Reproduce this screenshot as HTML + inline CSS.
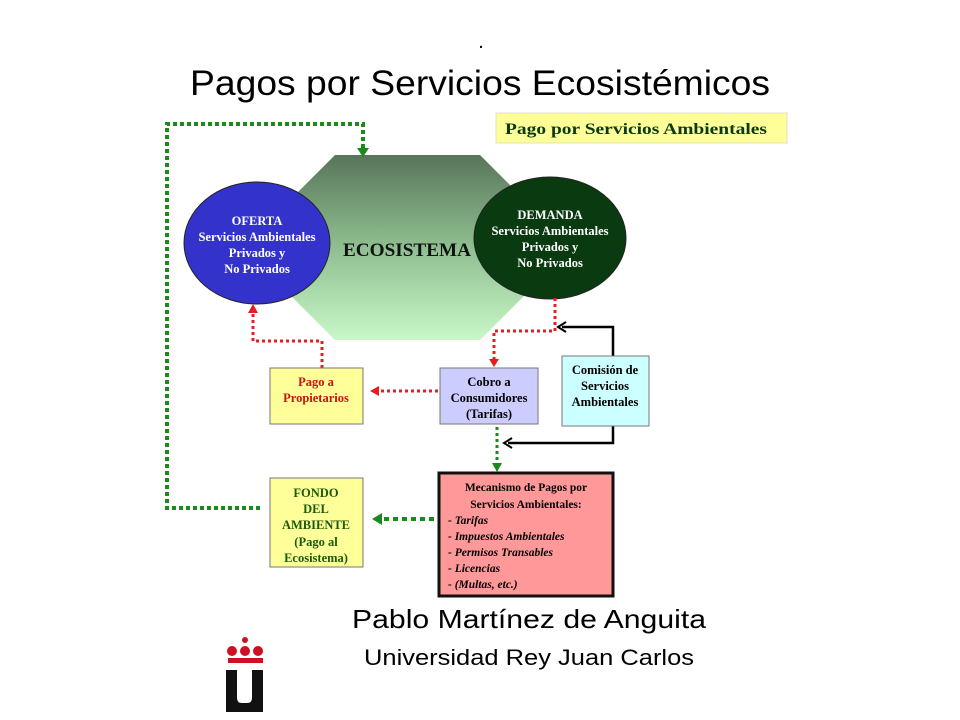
<!DOCTYPE html>
<html><head><meta charset="utf-8"><style>html,body{margin:0;padding:0;background:#fff}svg{display:block}</style></head>
<body>
<svg width="960" height="720" viewBox="0 0 960 720" xmlns="http://www.w3.org/2000/svg">
<defs>
<linearGradient id="g" x1="0" y1="0" x2="0" y2="1">
<stop offset="0" stop-color="#58755a"/><stop offset="0.5" stop-color="#8fbf90"/><stop offset="1" stop-color="#c8f7c8"/>
</linearGradient>
</defs>
<rect width="960" height="720" fill="#fff"/>
<text x="481" y="48" font-family="Liberation Sans, sans-serif" font-size="20" text-anchor="middle">.</text>
<text x="190" y="95" font-family="Liberation Sans, sans-serif" font-size="35" textLength="580" lengthAdjust="spacingAndGlyphs">Pagos por Servicios Ecosistémicos</text>
<rect x="496" y="113" width="291" height="30" fill="#ffff99" stroke="#e0e0c0"/>
<text x="505" y="134" font-family="Liberation Serif, serif" font-weight="bold" font-size="16" fill="#0a3a10" textLength="262" lengthAdjust="spacingAndGlyphs">Pago por Servicios Ambientales</text>

<polygon points="335,155 480,155 525,200 525,295 480,340 335,340 290,295 290,200" fill="url(#g)"/>
<ellipse cx="257" cy="243" rx="73" ry="61" fill="#3333cc" stroke="#222"/>
<ellipse cx="550" cy="238" rx="76" ry="61" fill="#0a3a10" stroke="#222"/>
<g font-family="Liberation Serif, serif" font-weight="bold" font-size="12.5" fill="#fff" text-anchor="middle">
<text x="257" y="225">OFERTA</text><text x="257" y="241">Servicios Ambientales</text><text x="257" y="257">Privados y</text><text x="257" y="273">No Privados</text>
<text x="550" y="219">DEMANDA</text><text x="550" y="235">Servicios Ambientales</text><text x="550" y="251">Privados y</text><text x="550" y="267">No Privados</text>
</g>
<text x="343" y="256" font-family="Liberation Serif, serif" font-weight="bold" font-size="19" fill="#111" textLength="128" lengthAdjust="spacingAndGlyphs">ECOSISTEMA</text>

<!-- green loop -->
<polyline points="260,508 167,508 167,124 363,124 363,148" fill="none" stroke="#1a8a1a" stroke-width="4" stroke-dasharray="4,3"/>
<polygon points="357,148 369,148 363,157" fill="#1a8a1a"/>
<!-- red to oferta -->
<polyline points="322,368 322,341 253,341 253,312" fill="none" stroke="#e02020" stroke-width="3" stroke-dasharray="3,3"/>
<polygon points="248,313 258,313 253,304" fill="#e02020"/>
<!-- red demanda to cobro -->
<polyline points="555,298 555,331 494,331 494,360" fill="none" stroke="#e02020" stroke-width="3" stroke-dasharray="3,3"/>
<polygon points="489,359 499,359 494,367" fill="#e02020"/>
<!-- black lines -->
<polyline points="613,356 613,327 562,327" fill="none" stroke="#000" stroke-width="2.5"/>
<polyline points="566,322 558,327 566,332" fill="none" stroke="#000" stroke-width="2"/>
<polyline points="613,426 613,443 508,443" fill="none" stroke="#000" stroke-width="2.5"/>
<polyline points="512,438 504,443 512,448" fill="none" stroke="#000" stroke-width="2"/>
<!-- red cobro to pago -->
<line x1="438" y1="391" x2="378" y2="391" stroke="#e02020" stroke-width="3" stroke-dasharray="3,3"/>
<polygon points="370,391 379,386 379,396" fill="#e02020"/>
<!-- green cobro to mecanismo -->
<line x1="497" y1="427" x2="497" y2="464" stroke="#1a8a1a" stroke-width="3" stroke-dasharray="3,3"/>
<polygon points="492,463 502,463 497,472" fill="#1a8a1a"/>
<!-- green mecanismo to fondo -->
<line x1="434" y1="519" x2="382" y2="519" stroke="#1a8a1a" stroke-width="4" stroke-dasharray="5,4"/>
<polygon points="372,519 382,513 382,525" fill="#1a8a1a"/>

<!-- boxes -->
<rect x="270" y="368" width="93" height="56" fill="#ffff99" stroke="#777"/>
<rect x="440" y="368" width="98" height="56" fill="#ccccff" stroke="#777"/>
<rect x="562" y="356" width="87" height="70" fill="#ccffff" stroke="#777"/>
<rect x="270" y="478" width="93" height="89" fill="#ffff99" stroke="#777"/>
<rect x="439" y="473" width="174" height="123" fill="#ff9999" stroke="#111" stroke-width="3"/>
<g font-family="Liberation Serif, serif" font-weight="bold" font-size="12.5" text-anchor="middle">
<text x="316" y="386" fill="#cc1111">Pago a</text><text x="316" y="402" fill="#cc1111">Propietarios</text>
<text x="489" y="386">Cobro a</text><text x="489" y="402">Consumidores</text><text x="489" y="418">(Tarifas)</text>
<text x="605" y="374">Comisión de</text><text x="605" y="390">Servicios</text><text x="605" y="406">Ambientales</text>
<g fill="#1a5a0a"><text x="316" y="497">FONDO</text><text x="316" y="513">DEL</text><text x="316" y="529">AMBIENTE</text><text x="316" y="546">(Pago al</text><text x="316" y="562">Ecosistema)</text></g>
<text x="526" y="491" font-size="11.5">Mecanismo de Pagos por</text><text x="526" y="508" font-size="11.5">Servicios Ambientales:</text>
</g>
<g font-family="Liberation Serif, serif" font-weight="bold" font-size="11.5" font-style="italic">
<text x="448" y="524">-  Tarifas</text><text x="448" y="540">- Impuestos Ambientales</text><text x="448" y="556">- Permisos Transables</text><text x="448" y="572">- Licencias</text><text x="448" y="588">- (Multas, etc.)</text>
</g>

<text x="352" y="628" font-family="Liberation Sans, sans-serif" font-size="26" textLength="354" lengthAdjust="spacingAndGlyphs">Pablo Martínez de Anguita</text>
<text x="364" y="665" font-family="Liberation Sans, sans-serif" font-size="22" textLength="330" lengthAdjust="spacingAndGlyphs">Universidad Rey Juan Carlos</text>

<!-- logo -->
<circle cx="245" cy="640" r="3" fill="#cc1122"/>
<circle cx="232" cy="651" r="5" fill="#cc1122"/><circle cx="245" cy="651" r="5" fill="#cc1122"/><circle cx="258" cy="651" r="5" fill="#cc1122"/>
<rect x="228" y="658" width="35" height="5" fill="#cc1122"/>
<path d="M226,670 h11 v28 q0,5 5,5 h5 q5,0 5,-5 v-28 h11 v42 h-37 z" fill="#111"/>
</svg>
</body></html>
